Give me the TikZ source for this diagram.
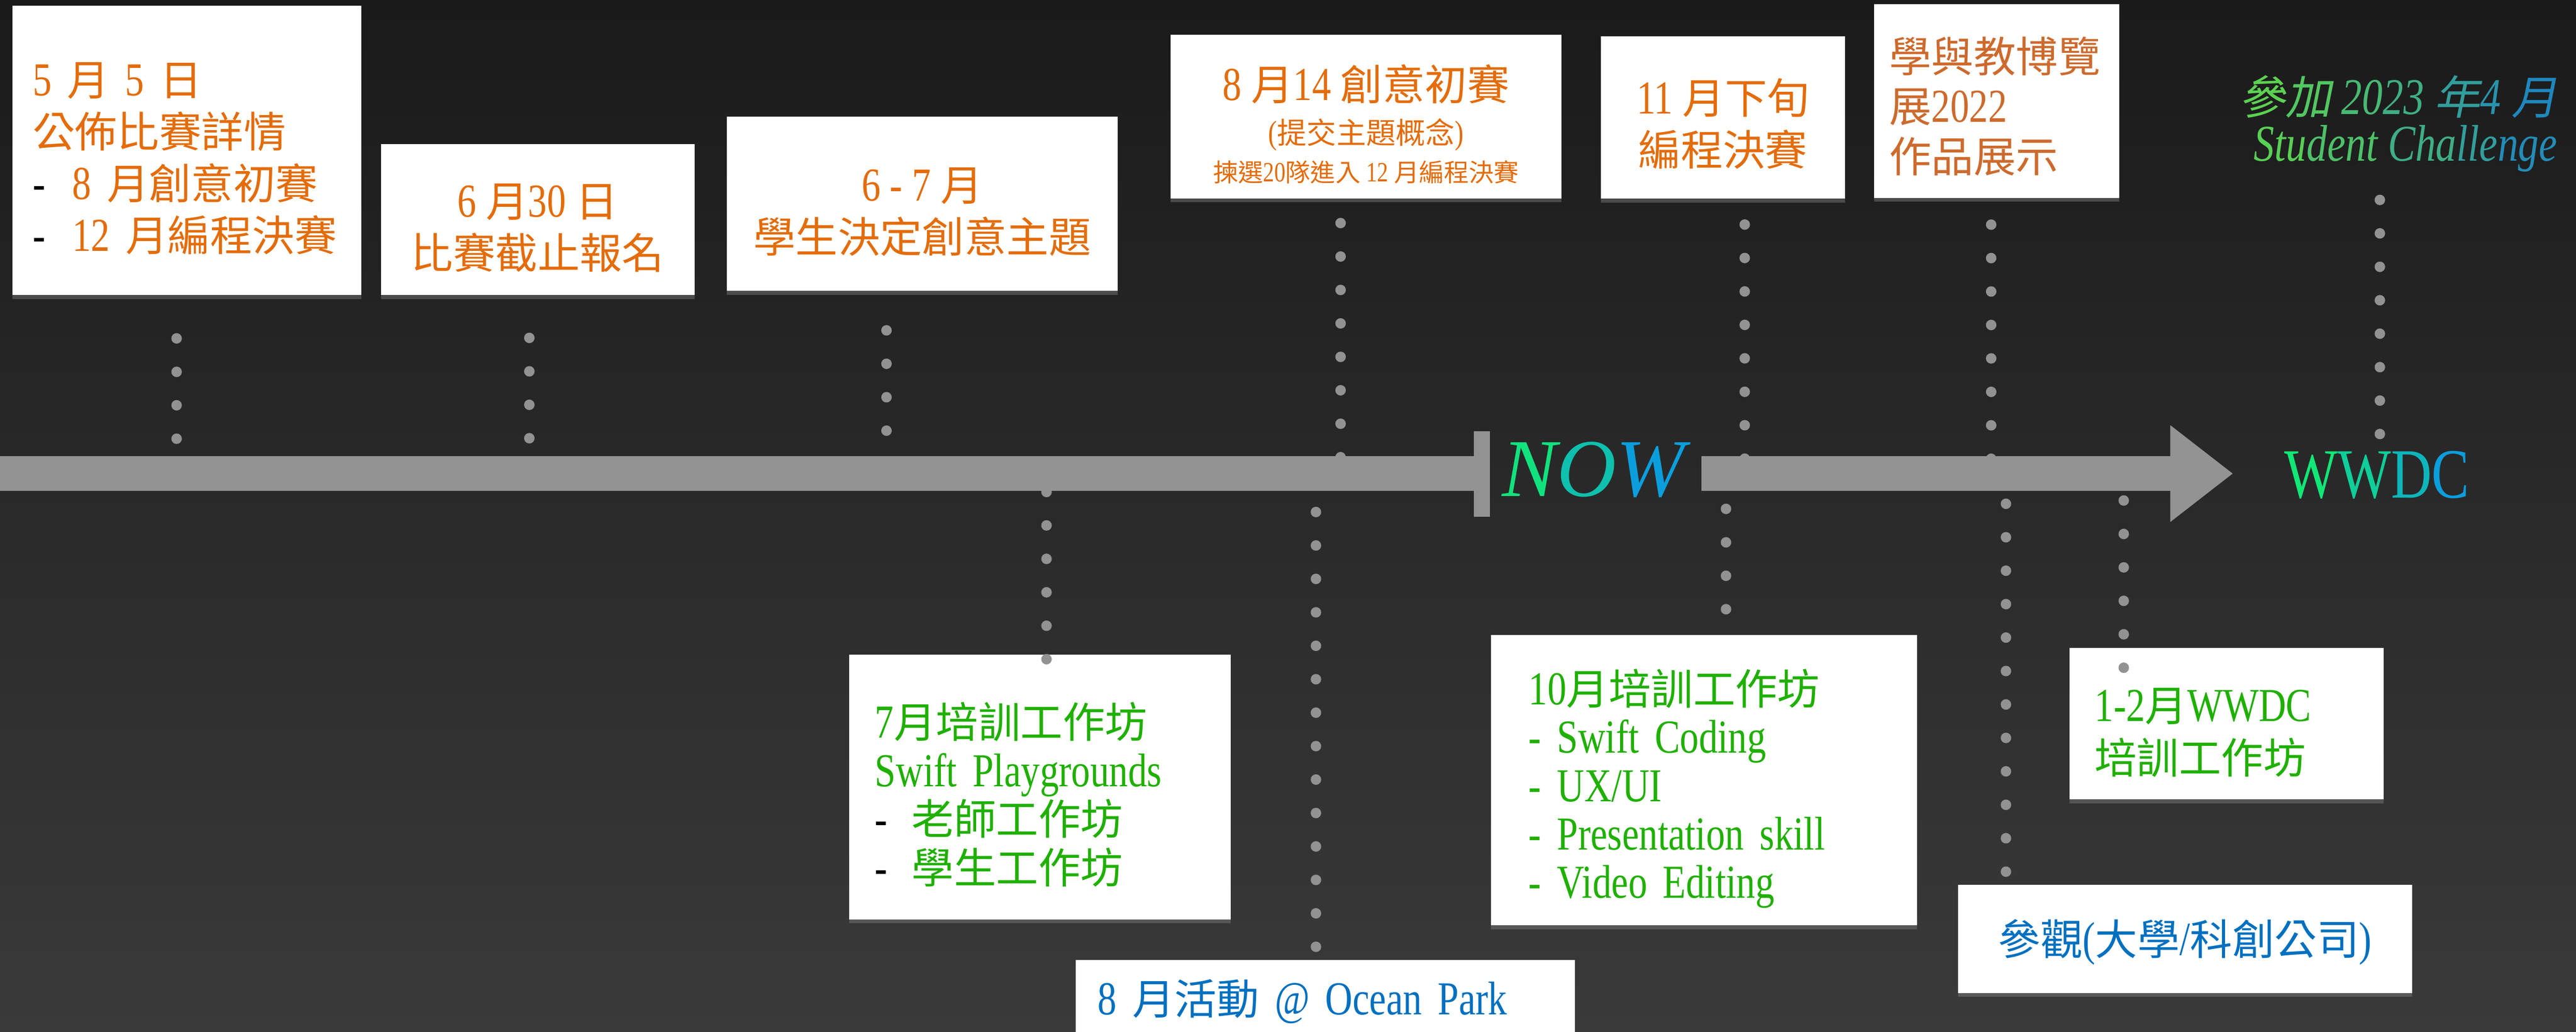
\documentclass[tikz,border=0pt]{standalone}
\usepackage{fontspec}
\setmainfont{Liberation Serif}[Scale=1.12,FakeStretch=0.8]
\newfontfamily\zhfont{Noto Sans CJK TC}
\newfontfamily\zhslant{Noto Sans CJK TC}[FakeSlant=0.2]
\newfontfamily\nowfont{Liberation Serif}
\usepackage{tikz}
\usetikzlibrary{shadows}

\definecolor{bgtop}{HTML}{1A1A1A}
\definecolor{bgbot}{HTML}{3A3A3A}
\definecolor{axisgrey}{HTML}{939393}
\definecolor{dotgrey}{HTML}{929292}
\definecolor{orangetext}{HTML}{E46C0A}
\definecolor{expotext}{HTML}{CD6A2D}
\definecolor{greentext}{HTML}{1FB000}
\definecolor{bluetext}{HTML}{0070C0}
\definecolor{chalA}{HTML}{5ED64B}
\definecolor{chalB}{HTML}{1A80C8}
\definecolor{nowA}{HTML}{12F06A}
\definecolor{nowB}{HTML}{0A90F0}

\newcommand{\zh}[1]{{\zhfont #1}}
\newcommand{\blackdash}[1]{\makebox[#1][l]{\color{black}-}}
\newcommand{\lift}[1]{\rule{0pt}{#1}}

\begin{document}
\begin{tikzpicture}[x=0.5pt,y=-0.5pt,
    card/.style={fill=white,inner sep=0pt,
      drop shadow={shadow xshift=0pt,shadow yshift=-1.2pt,opacity=0.45}},
    cardtext/.style={font=\fontsize{12.85}{15.75}\selectfont},
    dots/.style={draw=dotgrey,line width=3.2pt,line cap=round,
      dash pattern=on 0pt off 10.18pt}]

  \useasboundingbox (0,0) rectangle (1568,628);
  \shade[top color=bgtop,bottom color=bgbot] (0,0) rectangle (1568,628);

  % events above the axis
  \node[card,cardtext,text=orangetext,minimum width=106.2pt,minimum height=88.1pt,
        text width=93.9pt,align=left] (may5) at (113.8,91.6)
    {\lift{15pt}5 \zh{月} 5 \zh{日}\\ \zh{公佈比賽詳情}\\
     \blackdash{12pt}8 \zh{月創意初賽}\\ \blackdash{12pt}12 \zh{月編程決賽}};
  \node[card,cardtext,text=orangetext,minimum width=95.45pt,minimum height=46pt,
        align=center] (jun30) at (327.25,133.7)
    {\lift{15.2pt}6 \zh{月}30 \zh{日}\\ \zh{比賽截止報名}};
  \node[card,cardtext,text=orangetext,minimum width=119pt,minimum height=53pt,
        align=center] (junjul) at (561.35,124)
    {\lift{15.2pt}6 - 7 \zh{月}\\ \zh{學生決定創意主題}};
  \node[card,text=orangetext,font=\fontsize{12.85}{11.5}\selectfont,
        minimum width=119pt,minimum height=49.9pt,align=center] (aug14) at (831.5,70.9)
    {\lift{15.5pt}8 \zh{月}14 \zh{創意初賽}\\[1.7pt]
     {\fontsize{9}{11.5}\selectfont (\zh{提交主題概念})}\\
     {\fontsize{7.6}{11.5}\selectfont \zh{揀選}20\zh{隊進入} 12 \zh{月編程決賽}}};
  \node[card,cardtext,text=orangetext,minimum width=74.25pt,minimum height=49.5pt,
        align=center] (nov) at (1048.75,71.5)
    {\lift{14.5pt}11 \zh{月下旬}\\ \zh{編程決賽}};
  \node[card,text=expotext,font=\fontsize{12.85}{15.2}\selectfont,
        minimum width=74.6pt,minimum height=59pt,text width=65.4pt,align=left]
        (expo) at (1215.4,61.45)
    {\lift{14pt}\zh{學與教博覽}\\ \zh{展}2022\\ \zh{作品展示}};
  \node[anchor=south east,inner sep=0pt,align=right,
        font=\fontsize{14}{14.25}\selectfont\itshape] (chal) at (1557,105)
    {\textcolor{chalA!95!chalB}{\zhslant 參}\textcolor{chalA!82!chalB}{\zhslant 加}
     \textcolor{chalA!68!chalB}{20}\textcolor{chalA!55!chalB}{23}
     \textcolor{chalA!35!chalB}{\zhslant 年}\textcolor{chalA!22!chalB}{4}
     \textcolor{chalA!8!chalB}{\zhslant 月}\\
     \textcolor{chalA!92!chalB}{Stu}\textcolor{chalA!76!chalB}{dent}
     \textcolor{chalA!54!chalB}{Cha}\textcolor{chalA!36!chalB}{lle}\textcolor{chalA!14!chalB}{nge}};

  % events below the axis
  \node[card,text=greentext,font=\fontsize{12.85}{14.75}\selectfont,
        minimum width=116.1pt,minimum height=80.6pt,text width=100.3pt,align=left]
        (jul) at (632.9,479.1)
    {\lift{15.5pt}7\zh{月培訓工作坊}\\ Swift Playgrounds\\
     \blackdash{11.2pt}\zh{老師工作坊}\\ \blackdash{11.2pt}\zh{學生工作坊}};
  \node[card,cardtext,text=bluetext,anchor=north west,minimum width=152pt,
        minimum height=22.5pt,text width=138.5pt,align=left] (ocean) at (654.3,584)
    {\lift{13.5pt}8 \zh{月活動} @ Ocean Park};
  \node[card,text=greentext,font=\fontsize{12.85}{14.75}\selectfont,
        minimum width=129.75pt,minimum height=88.35pt,text width=106.75pt,align=left]
        (oct) at (1037.25,474.95)
    {\lift{16pt}10\zh{月培訓工作坊}\\ - Swift Coding\\ - UX/UI\\ - Presentation skill\\ - Video Editing};
  \node[card,text=greentext,font=\fontsize{12.85}{16}\selectfont,
        minimum width=95.6pt,minimum height=46pt,text width=80.4pt,align=left]
        (janfeb) at (1355.4,440.55)
    {\lift{15.5pt}1-2\zh{月}WWDC\\ \zh{培訓工作坊}};
  \node[card,cardtext,text=bluetext,minimum width=138.3pt,minimum height=33pt,
        align=center] (visit) at (1330,571.55)
    {\lift{13pt}\zh{參觀}(\zh{大學}/\zh{科創公司})};

  % where the dotted lines meet the axis
  \coordinate (a1) at (107.5,267.5);
  \coordinate (a2) at (322.2,267.3);
  \coordinate (a3) at (539.6,262.6);
  \coordinate (a4) at (816,278.5);
  \coordinate (a5) at (1062,279.4);
  \coordinate (a6) at (1212,279.4);
  \coordinate (a7) at (1448.6,265.6);
  \coordinate (b1) at (637,299.5);
  \coordinate (b2) at (801,311.7);
  \coordinate (b3) at (1050.6,309.8);
  \coordinate (b4) at (1221,306.7);
  \coordinate (b5) at (1292.7,304.7);

  \draw[dots,shorten <=12.95pt] (may5.south -| a1) -- (a1);
  \draw[dots,shorten <=12.8pt] (jun30.south -| a2) -- (a2);
  \draw[dots,shorten <=11.85pt] (junjul.south -| a3) -- (a3);
  \draw[dots,shorten <=7.3pt] (aug14.south -| a4) -- (a4);
  \draw[dots,shorten <=7.65pt] (nov.south -| a5) -- (a5);
  \draw[dots,shorten <=7.95pt] (expo.south -| a6) -- (a6);
  \draw[dots,shorten <=8.35pt] (chal.south -| a7) -- (a7);
  \draw[dots,shorten >=-1.6pt] (b1) -- (b1 |- jul.north);
  \draw[dots,shorten >=3.6pt] (b2) -- (b2 |- ocean.north);
  \draw[dots,shorten >=-2.5pt] (b3) -- (b3 |- oct.north);
  \draw[dots,shorten >=3.6pt] (b4) -- (b4 |- visit.north);
  \draw[dots,shorten >=-6.2pt] (b5) -- (b5 |- janfeb.north);

  % the time axis
  \fill[axisgrey] (0,277.7) rectangle (897,298.8);
  \fill[axisgrey] (897,262.5) rectangle (907,314.6);
  \fill[axisgrey] (1035.7,277.7) -- (1321,277.7) -- (1321,258.8) -- (1359,288.3)
    -- (1321,317.8) -- (1321,298.8) -- (1035.7,298.8) -- cycle;

  \node[anchor=base west,inner sep=0pt,font=\fontsize{25}{25}\selectfont\nowfont\itshape]
    (now) at (914,302)
    {\textcolor{nowA!85!nowB}{N}\textcolor{nowA!50!nowB}{O}\textcolor{nowA!15!nowB}{W}};
  \node[anchor=base west,inner sep=0pt,font=\fontsize{19.2}{20}\selectfont]
    (wwdc) at (1390,303)
    {\textcolor{nowA!90!nowB}{W}\textcolor{nowA!65!nowB}{W}\textcolor{nowA!40!nowB}{D}\textcolor{nowA!15!nowB}{C}};
\end{tikzpicture}
\end{document}
